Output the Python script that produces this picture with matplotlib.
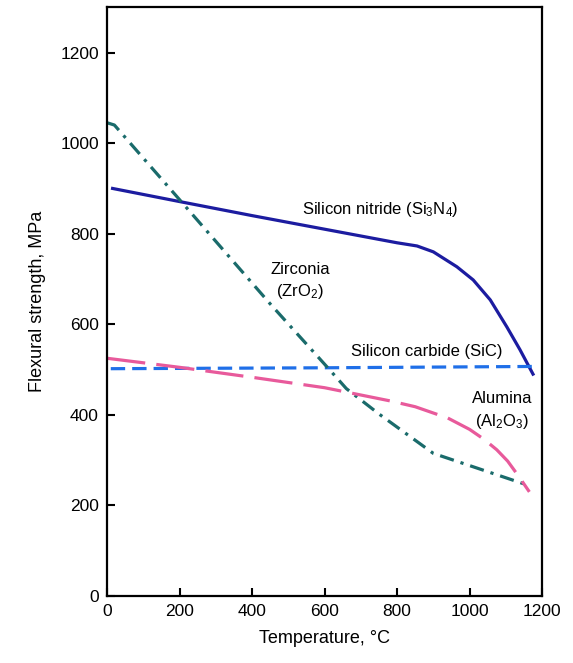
import matplotlib
matplotlib.use('Agg')
import matplotlib.pyplot as plt

plt.rcParams['font.family'] = ['Liberation Sans', 'DejaVu Sans']
plt.rcParams['mathtext.fontset'] = 'custom'
plt.rcParams['mathtext.rm'] = 'Liberation Sans'
plt.rcParams['mathtext.it'] = 'Liberation Sans'

# values (temperature in C, strength in MPa)
si3n4_t = [15, 200, 400, 600, 800, 855, 900, 965, 1010, 1057, 1103, 1139, 1175]
si3n4_s = [900, 871, 840, 810, 780, 773, 760, 727, 698, 654, 594, 544, 490]

sic_t = [10, 600, 1185]
sic_s = [502, 504, 507]

zro2_t = [0, 20, 200, 450, 610, 660, 750, 900, 1160]
zro2_s = [1045, 1040, 875, 645, 503, 458, 402, 315, 245]

al2o3_t = [0, 200, 400, 600, 780, 850, 940, 1000, 1040, 1075, 1105, 1135, 1165]
al2o3_s = [525, 505, 483, 460, 431, 418, 393, 368, 346, 323, 298, 265, 230]

x_ticks = [0, 200, 400, 600, 800, 1000, 1200]
y_ticks = [0, 200, 400, 600, 800, 1000, 1200]

fig, ax = plt.subplots(figsize=(5.73, 6.63), dpi=100)
fig.subplots_adjust(left=0.187, right=0.946, bottom=0.101, top=0.989)

ax.plot(si3n4_t, si3n4_s, color='#1c1ca0', lw=2.3, solid_joinstyle='round')
ax.plot(sic_t, sic_s, color='#1f6fe8', lw=2.3, dashes=(4.5, 2.2))
ax.plot(zro2_t, zro2_s, color='#1a6b6b', lw=2.3, dashes=(4.5, 2.2, 1.0, 2.2))
ax.plot(al2o3_t, al2o3_s, color='#e85a9b', lw=2.3, dashes=(12, 3.5))

fs = 12
ax.text(753, 853, 'Silicon nitride (Si$_3$N$_4$)', fontsize=fs, ha='center', va='center')
ax.text(532, 720, 'Zirconia', fontsize=fs, ha='center', va='center')
ax.text(532, 672, '(ZrO$_2$)', fontsize=fs, ha='center', va='center')
ax.text(883, 539, 'Silicon carbide (SiC)', fontsize=fs, ha='center', va='center')
ax.text(1090, 437, 'Alumina', fontsize=fs, ha='center', va='center')
ax.text(1090, 385, '(Al$_2$O$_3$)', fontsize=fs, ha='center', va='center')

ax.set_xlim(0, 1200)
ax.set_ylim(0, 1300)
ax.set_xticks(x_ticks)
ax.set_yticks(y_ticks)
ax.tick_params(direction='in', length=6, width=1.5, labelsize=12.5, pad=6)
for sp in ax.spines.values():
    sp.set_linewidth(1.6)

ax.set_xlabel('Temperature, °C', fontsize=13, labelpad=8)
ax.set_ylabel('Flexural strength, MPa', fontsize=13, labelpad=10)

fig.savefig('out.png', dpi=100)
